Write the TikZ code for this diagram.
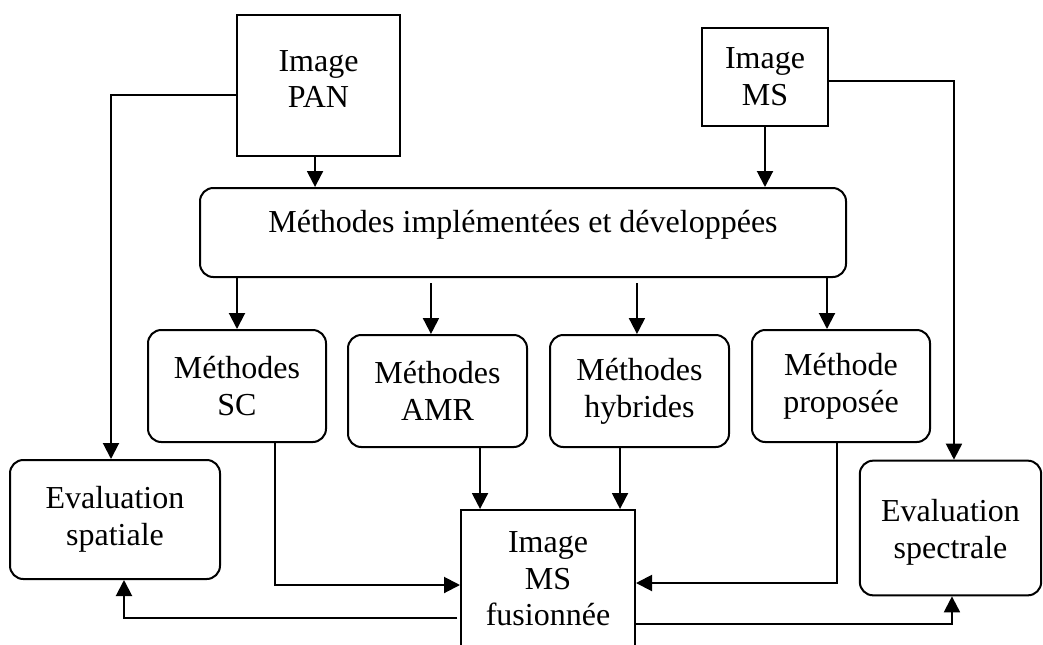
\documentclass[tikz,border=0pt]{standalone}
\usepackage{fontspec}
\setmainfont{Liberation Serif}
\usetikzlibrary{arrows.meta}
\tikzset{
  every node/.style={font=\fontsize{24}{27.5}\selectfont, align=center, inner sep=0pt},
  sqbox/.style={draw, line width=1.5pt, rectangle},
  rbox/.style={draw, line width=1.5pt, rectangle, rounded corners=10pt},
  link/.style={line width=1.5pt},
  arr/.style={link, -{Triangle[length=12pt,width=12pt]}},
}
\begin{document}
\begin{tikzpicture}[x=0.75pt, y=-0.75pt]
\useasboundingbox (0,0) rectangle (1043,644);

% sources
\node[sqbox, minimum width=122.25pt, minimum height=105.75pt] (pan) at (318.5,85.5) {Image\\PAN\\[-18pt]\mbox{}};
\node[sqbox, minimum width=94.5pt, minimum height=73.5pt] (ms) at (765,77) {Image\\MS};

% family of methods
\node[rbox, minimum width=484.5pt, minimum height=66.75pt, text height=15pt, text depth=15pt] (meth) at (523,232.5) {Méthodes implémentées et développées};

\node[rbox, minimum width=133.5pt, minimum height=84pt] (sc) at (237,386) {Méthodes\\SC};
\node[rbox, minimum width=134.25pt, minimum height=84pt] (amr) at (437.5,391) {Méthodes\\AMR};
\node[rbox, minimum width=134.25pt, minimum height=84pt] (hyb) at (639.5,391) {Méthodes\\hybrides};
\node[rbox, minimum width=133.5pt, minimum height=84pt] (prop) at (841,386) {Méthode\\proposée};

% evaluations and result
\node[rbox, minimum width=157.5pt, minimum height=89.25pt] (evsp) at (115,519.5) {Evaluation\\spatiale};
\node[rbox, minimum width=136pt, minimum height=101pt] (evsc) at (950.5,528) {\mbox{}\\[-4pt]Evaluation\\spectrale};
\node[sqbox, minimum width=130.5pt, minimum height=103.5pt] (fus) at (548,579) {Image\\MS\\fusionnée};

% inputs
\draw[arr] ([xshift=-2.6pt]pan.south) -- ([xshift=-2.6pt]pan.south |- meth.north);
\draw[arr] (ms.south) -- (ms.south |- meth.north);
\draw[arr] ([yshift=-7pt]pan.west) -| ([xshift=-3pt]evsp.north);
\draw[arr] ([yshift=-3pt]ms.east) -| ([xshift=2.6pt]evsc.north);

% branches
\draw[arr] (sc.north |- meth.south) -- (sc.north);
\draw[arr] ([xshift=-4.9pt]amr.north |- meth.south) ++(0,5) -- ([xshift=-4.9pt]amr.north);
\draw[arr] ([xshift=-1.9pt]hyb.north |- meth.south) ++(0,5) -- ([xshift=-1.9pt]hyb.north);
\draw[arr] ([xshift=-10.5pt]prop.north |- meth.south) -- ([xshift=-10.5pt]prop.north);

% merging into the fused image
\draw[arr] ([xshift=28.5pt]sc.south) |- ([yshift=-4.5pt]fus.west);
\draw[arr] ([xshift=31.9pt]amr.south) -- ([xshift=31.9pt]amr.south |- fus.north);
\draw[arr] ([xshift=-14.6pt]hyb.south) -- ([xshift=-14.6pt]hyb.south |- fus.north);
\draw[arr] ([xshift=-3pt]prop.south) |- ([yshift=-3pt]fus.east);

% evaluation of the fused image
\draw[arr] ([xshift=-2pt,yshift=-29.25pt]fus.west) -| ([xshift=6.75pt]evsp.south);
\draw[arr] ([yshift=-33.75pt]fus.east) -| ([xshift=1.1pt]evsc.south);
\end{tikzpicture}
\end{document}
